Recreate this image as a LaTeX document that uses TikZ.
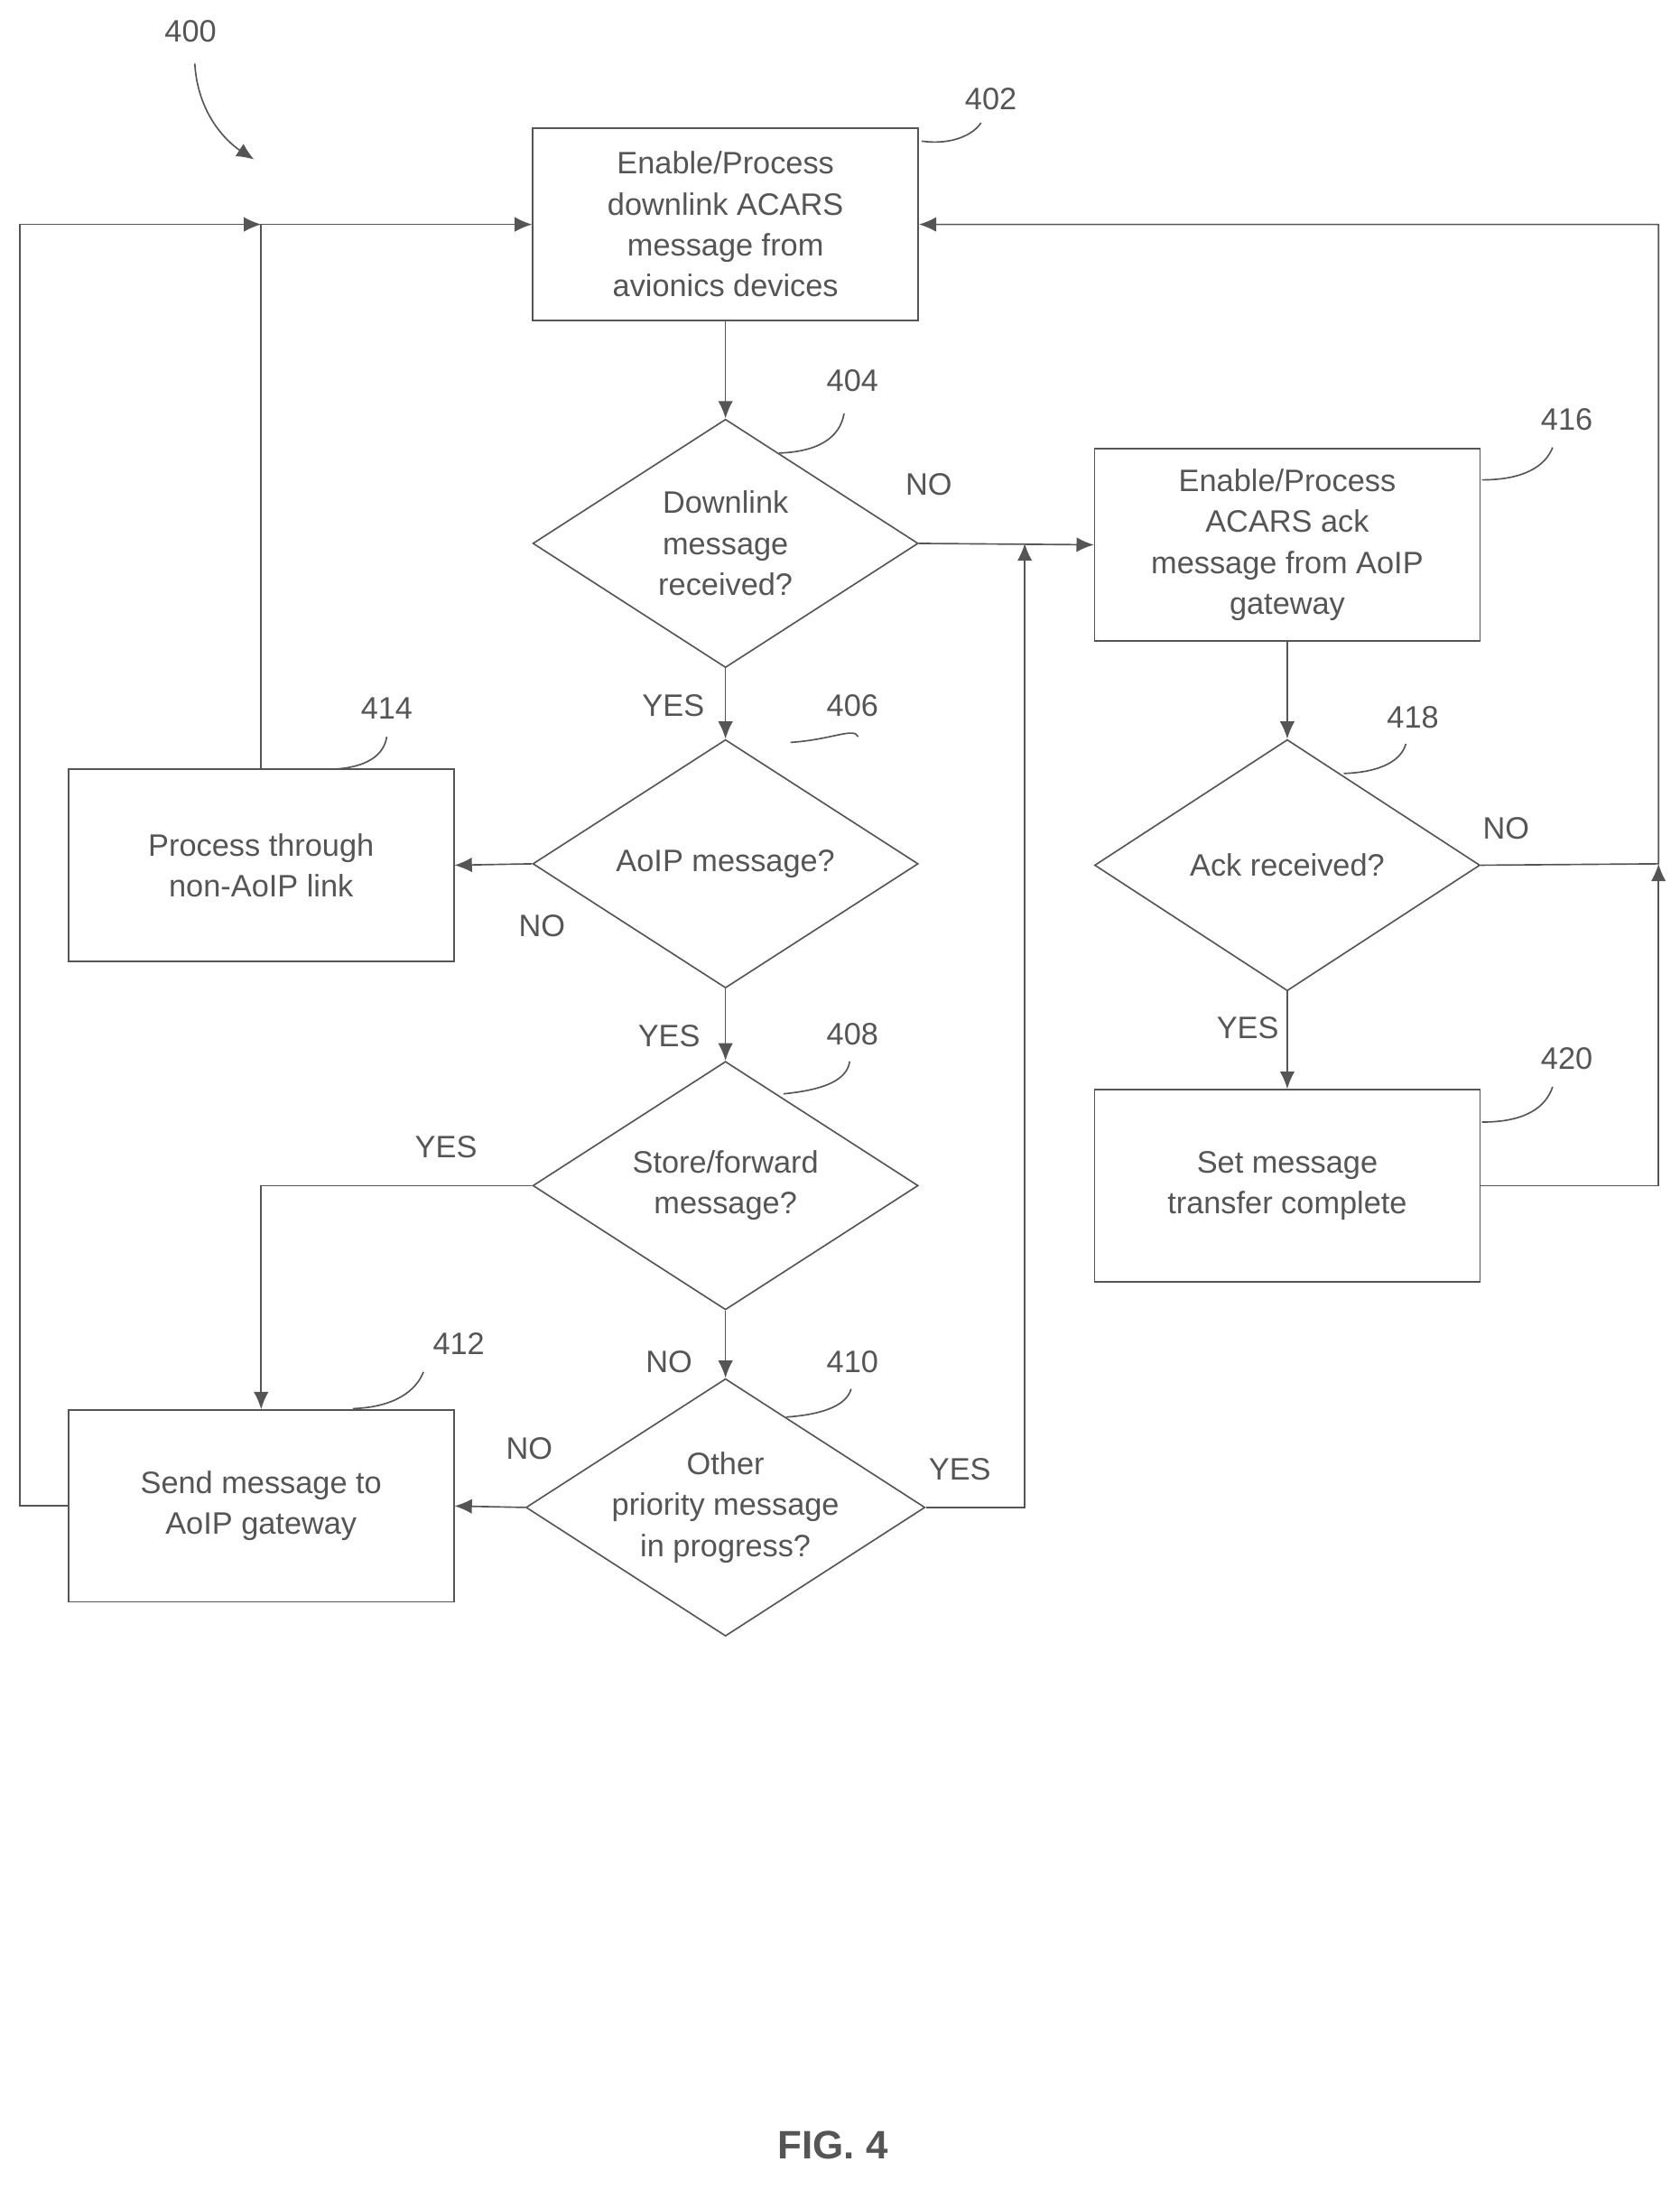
\documentclass[tikz,border=0pt]{standalone}
\usepackage{fontspec}
\setmainfont{Liberation Sans}
\usetikzlibrary{shapes.geometric,arrows.meta}
\definecolor{ink}{HTML}{555555}
\begin{document}
\begin{tikzpicture}[x=0.02cm,y=-0.02cm,
  every node/.style={font=\fontsize{12.5}{16.5}\selectfont,text=ink},
  box/.style={draw=ink,line width=0.6pt,minimum width=273*0.02cm,minimum height=136*0.02cm,align=center,inner sep=1pt},
  dia/.style={draw=ink,line width=0.6pt,diamond,aspect=1.55,minimum width=273*0.02cm,minimum height=176*0.02cm,align=center,inner sep=0pt},
  ln/.style={draw=ink,line width=0.6pt},
  ar/.style={ln,-{Latex[length=7pt,width=6pt]}},
  lab/.style={font=\fontsize{12.5}{15}\selectfont}]
\useasboundingbox (0,0) rectangle (1190,1558);
\node[box] (b402) at (514,159) {Enable/Process\\downlink ACARS\\message from\\avionics devices};
\node[dia] (d404) at (514,385) {Downlink\\message\\received?};
\node[dia] (d406) at (514,612) {AoIP message?};
\node[dia] (d408) at (514,840) {Store/forward\\message?};
\node[dia] (d410) at (514,1068) {Other\\priority message\\in progress?};
\node[box] (b414) at (185,613) {Process through\\non-AoIP link};
\node[box] (b412) at (185,1067) {Send message to\\AoIP gateway};
\node[box] (b416) at (912,386) {Enable/Process\\ACARS ack\\message from AoIP\\gateway};
\node[dia,minimum height=178*0.02cm] (d418) at (912,613) {Ack received?};
\node[box] (b420) at (912,840) {Set message\\transfer complete};
\coordinate (j1) at (185,159);
\coordinate (r1) at (1175,159);
\coordinate (r2) at (1175,612);
\coordinate (m1) at (726,385);
\draw[ar] (b402) -- (d404);
\draw[ar] (d404) -- (d406);
\draw[ar] (d406) -- (d408);
\draw[ar] (d408) -- (d410);
\draw[ar] (d406.west) -- (b414.east);
\draw[ar] (d410.west) -- (b412.east);
\draw[ar] (d404.east) -- (b416.west);
\draw[ar] (b416) -- (d418);
\draw[ar] (d418) -- (b420);
\draw[ar] (d408.west) -| (b412.north);
\draw[ar] (d410.east) -| (m1);
\draw[ln] (b412.west) -- (14,1067) -- (14,159) -- (j1);
\draw[ar] (14,159) -- (185,159);
\draw[ar] (j1) -- (b402.west);
\draw[ln] (b414.north) -- (j1);
\draw[ar] (d418.east) -- (r2) -- (r1) -- (b402.east);
\draw[ar] (b420.east) -- (1175,840) -- (r2);
\node[lab] at (658,343) {NO};
\node[lab] at (477,500) {YES};
\node[lab] at (384,656) {NO};
\node[lab] at (474,734) {YES};
\node[lab] at (316,813) {YES};
\node[lab] at (474,965) {NO};
\node[lab] at (375,1026) {NO};
\node[lab] at (680,1041) {YES};
\node[lab] at (1067,587) {NO};
\node[lab] at (884,728) {YES};
\node[lab] (n400) at (135,22) {400};
\draw[ar] (138,45) .. controls (140,80) and (160,100) .. (180,113);
\node[lab] (n402) at (702,70) {402};
\draw[ln] (653,100) .. controls (675,103) and (690,95) .. (695,87);
\node[lab] (n404) at (604,270) {404};
\draw[ln] (552,321) .. controls (580,320) and (595,310) .. (598,293);
\node[lab] (n406) at (604,500) {406};
\draw[ln] (560,526) .. controls (590,524) and (605,515) .. (608,522);
\node[lab] (n408) at (604,733) {408};
\draw[ln] (555,775) .. controls (585,772) and (600,765) .. (602,752);
\node[lab] (n410) at (604,965) {410};
\draw[ln] (557,1004) .. controls (585,1002) and (600,995) .. (603,984);
\node[lab] (n414) at (274,502) {414};
\draw[ln] (235,545) .. controls (260,544) and (272,535) .. (274,522);
\node[lab] (n412) at (325,952) {412};
\draw[ln] (250,998) .. controls (280,997) and (295,985) .. (300,972);
\node[lab] (n416) at (1110,297) {416};
\draw[ln] (1050,340) .. controls (1080,340) and (1095,330) .. (1100,317);
\node[lab] (n418) at (1001,508) {418};
\draw[ln] (952,548) .. controls (980,547) and (993,538) .. (996,527);
\node[lab] (n420) at (1110,750) {420};
\draw[ln] (1050,795) .. controls (1080,795) and (1095,785) .. (1100,770);
\node[font=\bfseries\fontsize{16}{19}\selectfont] at (590,1520) {FIG. 4};
\end{tikzpicture}
\end{document}
